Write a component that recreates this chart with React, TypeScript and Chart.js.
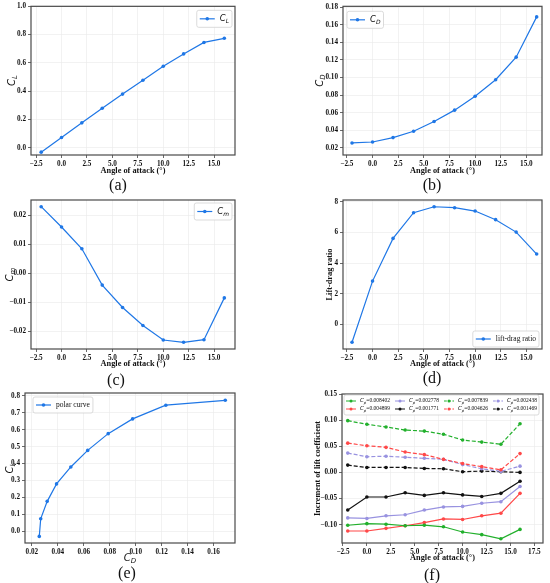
import React, { useEffect, useRef } from 'react';
import { Chart, registerables } from 'chart.js';

Chart.register(...registerables);

// angle of attack (deg)
const aoa = [-2, 0, 2, 4, 6, 8, 10, 12, 14, 16];
const cl = [-0.03, 0.074, 0.177, 0.28, 0.38, 0.478, 0.577, 0.664, 0.745, 0.774];
const cd = [0.0257, 0.0268, 0.0318, 0.039, 0.05, 0.063, 0.0788, 0.0976, 0.1232, 0.169];
const cm = [0.0229, 0.0159, 0.0084, -0.0041, -0.0118, -0.018, -0.023, -0.0238, -0.0229, -0.0085];
const liftDrag = [-1.15, 2.83, 5.61, 7.28, 7.67, 7.61, 7.39, 6.83, 6.02, 4.59];

// increment of lift coefficient for each Cp
const inc008402 = [-0.101, -0.098, -0.099, -0.102, -0.101, -0.104, -0.114, -0.119, -0.127, -0.109];
const inc004899 = [-0.112, -0.112, -0.107, -0.102, -0.096, -0.089, -0.09, -0.083, -0.078, -0.04];
const inc002778 = [-0.087, -0.088, -0.083, -0.081, -0.072, -0.066, -0.065, -0.059, -0.056, -0.027];
const inc001771 = [-0.072, -0.047, -0.047, -0.039, -0.044, -0.039, -0.043, -0.046, -0.04, -0.017];
const inc007839 = [0.099, 0.092, 0.087, 0.081, 0.079, 0.073, 0.062, 0.058, 0.054, 0.093];
const inc004626 = [0.056, 0.051, 0.048, 0.039, 0.034, 0.025, 0.017, 0.011, 0.005, 0.036];
const inc002438 = [0.037, 0.03, 0.031, 0.029, 0.027, 0.025, 0.015, 0.007, 0.002, 0.012];
const inc001469 = [0.014, 0.0095, 0.0095, 0.0095, 0.0076, 0.007, 0.0013, 0.0025, 0.0013, 0.0];

// tick labels
const aoaTicks = [-2.5, 0, 2.5, 5, 7.5, 10, 12.5, 15];
const aoaTicksF = [-2.5, 0, 2.5, 5, 7.5, 10, 12.5, 15, 17.5];
const clTicks = [0, 0.2, 0.4, 0.6, 0.8, 1.0];
const cdTicks = [0.02, 0.04, 0.06, 0.08, 0.1, 0.12, 0.14, 0.16, 0.18];
const cmTicks = [-0.02, -0.01, 0, 0.01, 0.02];
const ldTicks = [0, 2, 4, 6, 8];
const polarXTicks = [0.02, 0.04, 0.06, 0.08, 0.1, 0.12, 0.14, 0.16];
const polarYTicks = [0, 0.1, 0.2, 0.3, 0.4, 0.5, 0.6, 0.7, 0.8];
const incTicks = [-0.1, -0.05, 0, 0.05, 0.1, 0.15];

const BLUE = '#1f77e6';
const GREEN = '#22b02c';
const RED = '#ff4848';
const LAVENDER = '#9892e0';
const BLACK = '#111111';
const SERIF = '"Liberation Serif", "Times New Roman", serif';
const SANS = '"DejaVu Sans", sans-serif';

type Seg = { t: string; f: string; dy?: number };
type Axis = { min: number; max: number; ticks: number[]; dec: number };
type Series = { xs: number[]; ys: number[]; color: string; dash?: number[]; label: Seg[] };
type Leg = {
  corner: 'tl' | 'tr' | 'br';
  ix: number;
  iy: number;
  ncol: number;
  pad: number;
  handle: number;
  gap: number;
  colGap: number;
  rowH: number;
  lw?: number;
  r?: number;
};
type PanelProps = {
  box: [number, number, number, number];
  area: [number, number, number, number];
  x: Axis;
  y: Axis;
  series: Series[];
  xTitle: Seg[];
  yTitle: Seg[];
  xDy: number;
  yDx: number;
  legend: Leg;
};

const math = (main: string, sub: string, size: number, tail = ''): Seg[] => {
  const s: Seg[] = [
    { t: main, f: `italic ${size}px ${SANS}` },
    { t: sub, f: `italic ${(size * 0.7).toFixed(2)}px ${SANS}`, dy: size * 0.3 },
  ];
  if (tail) s.push({ t: tail, f: `${size}px ${SERIF}` });
  return s;
};
const txt = (t: string, size: number, bold = false): Seg[] => [
  { t, f: `${bold ? 'bold ' : ''}${size}px ${SERIF}` },
];

const fmt = (v: number, d: number) => (v < -1e-9 ? '\u2212' : '') + Math.abs(v).toFixed(d);

function segWidth(ctx: CanvasRenderingContext2D, segs: Seg[]) {
  let w = 0;
  for (const s of segs) {
    ctx.font = s.f;
    w += ctx.measureText(s.t).width;
  }
  return w;
}

function drawSegs(ctx: CanvasRenderingContext2D, segs: Seg[], x: number, y: number) {
  let cx = x;
  ctx.textAlign = 'left';
  ctx.textBaseline = 'middle';
  ctx.fillStyle = '#111';
  for (const s of segs) {
    ctx.font = s.f;
    ctx.fillText(s.t, cx, y + (s.dy || 0));
    cx += ctx.measureText(s.t).width;
  }
}

const AOA_TITLE = txt('Angle of attack (\u00b0)', 8.3, true);

function Panel(p: PanelProps) {
  const ref = useRef<HTMLCanvasElement | null>(null);
  const [bx, by, bw, bh] = p.box;

  useEffect(() => {
    const ctx = ref.current?.getContext('2d');
    if (!ctx) return;
    const [L, T, R, B] = p.area;

    const axisOpts = (a: Axis, horizontal: boolean, size: number) => ({
      type: 'linear' as const,
      min: a.min,
      max: a.max,
      bounds: 'data' as const,
      afterBuildTicks: (s: any) => {
        s.ticks = a.ticks.map((v) => ({ value: v }));
      },
      afterFit: (s: any) => {
        if (horizontal) s.height = size;
        else s.width = size;
      },
      ticks: {
        callback: (v: any) => fmt(Number(v), a.dec),
        font: { family: SERIF, size: 7.2, weight: 'bold' as const },
        color: '#111',
        padding: 2,
        autoSkip: false,
        maxRotation: 0,
      },
      grid: {
        color: '#e9e9e9',
        lineWidth: 0.6,
        tickColor: '#444',
        tickLength: 3,
        tickWidth: 0.8,
      },
      border: { display: false },
    });

    const decor = {
      id: 'decor',
      afterDatasetsDraw(chart: any) {
        const c: CanvasRenderingContext2D = chart.ctx;
        const ca = chart.chartArea;
        c.save();
        c.strokeStyle = '#4a4a4a';
        c.lineWidth = 1.2;
        c.strokeRect(ca.left, ca.top, ca.right - ca.left, ca.bottom - ca.top);

        // legend inside the plot area
        const lg = p.legend;
        const n = p.series.length;
        const nrow = Math.ceil(n / lg.ncol);
        const colW: number[] = [];
        p.series.forEach((s, i) => {
          const col = Math.floor(i / nrow);
          colW[col] = Math.max(colW[col] || 0, segWidth(c, s.label));
        });
        let w = lg.pad * 2 + lg.colGap * (lg.ncol - 1);
        colW.forEach((cw) => (w += lg.handle + lg.gap + cw));
        const h = lg.pad * 2 + nrow * lg.rowH;
        const lx = lg.corner === 'tl' ? ca.left + lg.ix : ca.right - lg.ix - w;
        const ly = lg.corner === 'br' ? ca.bottom - lg.iy - h : ca.top + lg.iy;
        c.fillStyle = 'rgba(255,255,255,0.85)';
        c.strokeStyle = '#d2d2d2';
        c.lineWidth = 0.8;
        c.beginPath();
        c.roundRect(lx, ly, w, h, 2);
        c.fill();
        c.stroke();
        p.series.forEach((s, i) => {
          const col = Math.floor(i / nrow);
          const row = i % nrow;
          let x0 = lx + lg.pad;
          for (let k = 0; k < col; k++) x0 += lg.handle + lg.gap + colW[k] + lg.colGap;
          const ym = ly + lg.pad + row * lg.rowH + lg.rowH / 2;
          c.strokeStyle = s.color;
          c.lineWidth = lg.lw || 1.2;
          c.setLineDash(s.dash ? s.dash.map((d) => d * 0.7) : []);
          c.beginPath();
          c.moveTo(x0, ym);
          c.lineTo(x0 + lg.handle, ym);
          c.stroke();
          c.setLineDash([]);
          c.fillStyle = s.color;
          c.beginPath();
          c.arc(x0 + lg.handle / 2, ym, lg.r || 1.8, 0, Math.PI * 2);
          c.fill();
          drawSegs(c, s.label, x0 + lg.handle + lg.gap, ym);
        });
        c.restore();
      },
      afterDraw(chart: any) {
        const c: CanvasRenderingContext2D = chart.ctx;
        const ca = chart.chartArea;
        c.save();
        const xw = segWidth(c, p.xTitle);
        drawSegs(c, p.xTitle, (ca.left + ca.right) / 2 - xw / 2, ca.bottom + p.xDy);
        const yw = segWidth(c, p.yTitle);
        c.translate(ca.left + p.yDx, (ca.top + ca.bottom) / 2);
        c.rotate(-Math.PI / 2);
        drawSegs(c, p.yTitle, -yw / 2, 0);
        c.restore();
      },
    };

    const chart = new Chart(ctx, {
      type: 'scatter',
      data: {
        datasets: p.series.map((s) => ({
          data: s.xs.map((x, i) => ({ x, y: s.ys[i] })),
          showLine: true,
          borderColor: s.color,
          backgroundColor: s.color,
          borderWidth: 1.2,
          borderDash: s.dash || [],
          pointRadius: 1.8,
          pointBorderWidth: 0,
          pointHoverRadius: 0,
          tension: 0,
        })),
      },
      options: {
        responsive: false,
        animation: false,
        events: [],
        layout: { padding: { top: T - by, right: bx + bw - R, left: 0, bottom: 0 } },
        plugins: { legend: { display: false }, tooltip: { enabled: false } },
        scales: {
          x: axisOpts(p.x, true, by + bh - B),
          y: axisOpts(p.y, false, L - bx),
        },
      },
      plugins: [decor],
    });

    return () => {
      chart.destroy();
    };
  }, [p]);

  return (
    <canvas
      ref={ref}
      width={bw}
      height={bh}
      style={{ position: 'absolute', left: bx, top: by, width: bw, height: bh }}
    />
  );
}

const tag = (t: string, x: number, y: number) => (
  <div
    key={t}
    style={{
      position: 'absolute',
      left: x,
      top: y,
      transform: 'translate(-50%, -50%)',
      font: `16px ${SERIF}`,
      lineHeight: 1,
      color: '#111',
    }}
  >
    {t}
  </div>
);

const legSmall: Leg = { corner: 'tr', ix: 3, iy: 4, ncol: 1, pad: 3, handle: 15, gap: 5, colGap: 0, rowH: 11 };

const panels: PanelProps[] = [
  {
    box: [0, 0, 250, 180],
    area: [31, 6, 235, 155],
    x: { min: -3, max: 17.05, ticks: aoaTicks, dec: 1 },
    y: { min: -0.05, max: 1.0, ticks: clTicks, dec: 1 },
    series: [{ xs: aoa, ys: cl, color: BLUE, label: math('C', 'L', 8.5) }],
    xTitle: AOA_TITLE,
    yTitle: math('C', 'L', 10),
    xDy: 16,
    yDx: -19,
    legend: legSmall,
  },
  {
    box: [290, 0, 260, 180],
    area: [343, 5, 542, 155],
    x: { min: -2.88, max: 16.52, ticks: aoaTicks, dec: 1 },
    y: { min: 0.012, max: 0.181, ticks: cdTicks, dec: 2 },
    series: [{ xs: aoa, ys: cd, color: BLUE, label: math('C', 'D', 8.5) }],
    xTitle: AOA_TITLE,
    yTitle: math('C', 'D', 10),
    xDy: 16,
    yDx: -23,
    legend: { ...legSmall, corner: 'tl', ix: 4, iy: 5 },
  },
  {
    box: [0, 190, 250, 180],
    area: [31, 200, 235, 349],
    x: { min: -3, max: 17.05, ticks: aoaTicks, dec: 1 },
    y: { min: -0.0261, max: 0.0252, ticks: cmTicks, dec: 2 },
    series: [{ xs: aoa, ys: cm, color: BLUE, label: math('C', 'm', 8.5) }],
    xTitle: AOA_TITLE,
    yTitle: math('C', 'm', 10),
    xDy: 14.5,
    yDx: -21,
    legend: { ...legSmall, iy: 3 },
  },
  {
    box: [290, 190, 260, 180],
    area: [343, 200, 542, 349],
    x: { min: -2.88, max: 16.52, ticks: aoaTicks, dec: 1 },
    y: { min: -1.59, max: 8.11, ticks: ldTicks, dec: 0 },
    series: [{ xs: aoa, ys: liftDrag, color: BLUE, label: txt('lift-drag ratio', 7.5) }],
    xTitle: AOA_TITLE,
    yTitle: txt('Lift-drag ratio', 8.3, true),
    xDy: 14.5,
    yDx: -13,
    legend: { ...legSmall, corner: 'br', ix: 3, iy: 2, rowH: 10 },
  },
  {
    box: [0, 385, 250, 180],
    area: [25, 393, 235, 543],
    x: { min: 0.0147, max: 0.1765, ticks: polarXTicks, dec: 2 },
    y: { min: -0.069, max: 0.817, ticks: polarYTicks, dec: 1 },
    series: [{ xs: cd, ys: cl, color: BLUE, label: txt('polar curve', 7.5) }],
    xTitle: math('C', 'D', 10),
    yTitle: math('C', 'L', 10),
    xDy: 15,
    yDx: -15,
    legend: { ...legSmall, corner: 'tl', ix: 8, iy: 4, rowH: 10 },
  },
  {
    box: [290, 385, 260, 180],
    area: [342, 394, 543, 543],
    x: { min: -2.6, max: 18.4, ticks: aoaTicksF, dec: 1 },
    y: { min: -0.135, max: 0.15, ticks: incTicks, dec: 2 },
    series: [
      { xs: aoa, ys: inc008402, color: GREEN, label: math('C', 'p', 5.5, '=0.008402') },
      { xs: aoa, ys: inc004899, color: RED, label: math('C', 'p', 5.5, '=0.004899') },
      { xs: aoa, ys: inc002778, color: LAVENDER, label: math('C', 'p', 5.5, '=0.002778') },
      { xs: aoa, ys: inc001771, color: BLACK, label: math('C', 'p', 5.5, '=0.001771') },
      { xs: aoa, ys: inc007839, color: GREEN, dash: [4, 2], label: math('C', 'p', 5.5, '=0.007839') },
      { xs: aoa, ys: inc004626, color: RED, dash: [4, 2], label: math('C', 'p', 5.5, '=0.004626') },
      { xs: aoa, ys: inc002438, color: LAVENDER, dash: [4, 2], label: math('C', 'p', 5.5, '=0.002438') },
      { xs: aoa, ys: inc001469, color: BLACK, dash: [4, 2], label: math('C', 'p', 5.5, '=0.001469') },
    ],
    xTitle: AOA_TITLE,
    yTitle: txt('Increment of lift coefficient', 8.2, true),
    xDy: 15,
    yDx: -24,
    legend: { corner: 'tl', ix: 2, iy: 1, ncol: 4, pad: 2, handle: 10, gap: 4, colGap: 5, rowH: 8, lw: 1, r: 1.5 },
  },
];

export default function App() {
  return (
    <div
      style={{
        position: 'absolute',
        left: 0,
        top: 0,
        width: 550,
        height: 583,
        background: '#fff',
        overflow: 'hidden',
      }}
    >
      {panels.map((p, i) => (
        <Panel key={i} {...p} />
      ))}
      {tag('(a)', 118, 185)}
      {tag('(b)', 432, 185)}
      {tag('(c)', 116, 380)}
      {tag('(d)', 432, 378)}
      {tag('(e)', 127, 573)}
      {tag('(f)', 432, 575)}
    </div>
  );
}
